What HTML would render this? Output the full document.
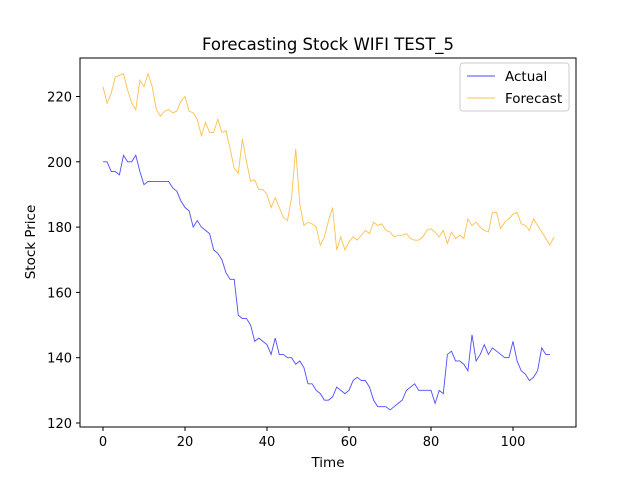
<!DOCTYPE html>
<html><head><meta charset="utf-8"><style>
body{margin:0;background:#fff;}
svg{font-family:"DejaVu Sans","Liberation Sans",sans-serif;}
</style></head><body>
<svg id="chart" width="640" height="480" xmlns="http://www.w3.org/2000/svg">
<rect width="640" height="480" fill="#fff"/>
<text x="328" y="50" font-size="16.5" text-anchor="middle">Forecasting Stock WIFI TEST_5</text>
<g id="ticks"></g>
<g id="series"></g>
<rect x="80" y="58" width="496" height="369" fill="none" stroke="#000" stroke-width="1"/>
<text x="328" y="467" font-size="13.5" text-anchor="middle">Time</text>
<text x="35" y="242" font-size="13.5" text-anchor="middle" transform="rotate(-90 35 242)">Stock Price</text>
<g>
<rect x="460" y="63" width="109" height="48" rx="3" fill="#fff" fill-opacity="0.8" stroke="#ccc"/>
<line x1="467" y1="76" x2="495" y2="76" stroke="#0000ff" stroke-opacity="0.7"/>
<text x="505" y="81" font-size="13.5">Actual</text>
<line x1="467" y1="98" x2="495" y2="98" stroke="#ffa500" stroke-opacity="0.7"/>
<text x="505" y="103" font-size="13.5">Forecast</text>
</g>
</svg>
<script>
const actual=[200,200,197,197,196,202,200,200,202,197,193,194,194,194,194,194,194,192,191,188,186,185,180,182,180,179,178,173,172,170,166,164,164,153,152,152,150,145,146,145,144,141,146,141,141,140,140,138,139,137,132,132,130,129,127,127,128,131,130,129,130,133,134,133,133,131,127,125,125,125,124,125,126,127,130,131,132,130,130,130,130,126,130,129,141,142,139,139,138,136,147,139,141,144,141,143,142,141,140,140,145,139,136,135,133,134,136,143,141,141];
const forecast=[223,218,221,226,226.5,227,222,218,216,225,223,227,223,216,214,215.5,216,215,215.5,218.5,220,215.5,215,213,208,212,209,209,213,209,209.5,204,198,196.5,207,200,194,194.5,191.5,191.5,190,186,189,186,183,182,189,204,187,180.5,181.5,181,180,174.5,177,182,186,173,177,173,175.5,177,176,177.5,179,178,181.5,180.5,181,179,178.5,177,177.5,177.5,178,176.5,176,176,177,179,179.5,178.5,177,179,175,178.5,176.5,177.5,176.5,182.5,180.5,181.5,180,179,178.5,184.5,184.5,179.5,181.5,182.5,184,184.5,181,180.5,179,182.5,180.5,178.5,176.5,174.5,177];
const xTicks=[0,20,40,60,80,100];
const yTicks=[120,140,160,180,200,220];
const NS="http://www.w3.org/2000/svg";
function xs(v){return 103+(v)*4.1;}
function ys(v){return 423-(v-120)*3.265;}
const tg=document.getElementById('ticks');
function mk(t,a){const e=document.createElementNS(NS,t);for(const k in a)e.setAttribute(k,a[k]);return e;}
xTicks.forEach(v=>{
 const l=mk('line',{x1:xs(v),x2:xs(v),y1:427,y2:431,stroke:'#000'});
 
 
 tg.appendChild(l);
 const t=mk('text',{x:xs(v),y:446,'font-size':13,'text-anchor':'middle'});
 
 
 t.textContent=v;tg.appendChild(t);
});
yTicks.forEach(v=>{
 const l=mk('line',{x1:76,x2:80,y1:ys(v),y2:ys(v),stroke:'#000'});
 
 
 tg.appendChild(l);
 const t=mk('text',{x:72,y:ys(v)+5,'font-size':13,'text-anchor':'end'});
 
 
 t.textContent=v;tg.appendChild(t);
});
const sg=document.getElementById('series');
function line(arr,color,name){
 const p=mk('polyline',{points:arr.map((v,i)=>xs(i)+','+ys(v)).join(' '),fill:'none',stroke:color,'stroke-opacity':0.7,'stroke-width':0.9});
 
 
 sg.appendChild(p);
}
line(actual,'#0000ff','actual-line');
line(forecast,'#ffa500','forecast-line');
</script>
</body></html>
